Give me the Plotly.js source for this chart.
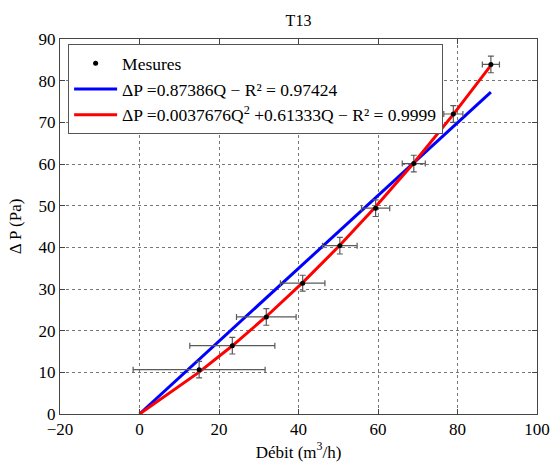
<!DOCTYPE html>
<html>
<head>
<meta charset="utf-8">
<script src="https://cdn.plot.ly/plotly-3.0.1.min.js"></script>
<style>
html,body{margin:0;padding:0;background:#fff}
#chart{width:559px;height:466px}
</style>
</head>
<body>
<div id="chart"></div>
<script>
const debit   = [15.0, 23.35, 31.9, 41.05, 50.4, 59.4, 69.0, 78.95, 88.4];
const deltaP  = [10.65, 16.4, 23.3, 31.4, 40.4, 49.4, 60.1, 72.0, 83.9];
const errDebit = [16.6, 10.7, 7.5, 5.6, 4.35, 3.55, 2.9, 2.4, 2.15];
const errDeltaP = [2.0, 2.0, 2.0, 1.9, 2.0, 2.0, 2.0, 2.0, 2.0];
// Fit coefficients shown in the legend
const linCoef = [0.87386];            // ΔP = a·Q
const quadCoef = [0.0037676, 0.61333]; // ΔP = a·Q² + b·Q
const fitQ = [0].concat(debit);

const linY = fitQ.map(q => linCoef[0] * q);
const quadY = fitQ.map(q => quadCoef[0] * q * q + quadCoef[1] * q);

const serif = 'Liberation Serif';

const traces = [
  {x: fitQ, y: linY, mode: 'lines', name: 'ΔP =0.87386Q − R² = 0.97424',
   line: {color: '#0000ff', width: 3}, legendrank: 2},
  {x: fitQ, y: quadY, mode: 'lines', name: 'ΔP =0.0037676Q<sup>2</sup> +0.61333Q − R² = 0.9999',
   line: {color: '#ff0000', width: 3}, legendrank: 3},
  {x: debit, y: deltaP, mode: 'markers', name: 'Mesures', legendrank: 1,
   marker: {color: '#000', size: 5},
   error_x: {type: 'data', array: errDebit, visible: true, color: '#5a5a5a', thickness: 1.2, width: 3},
   error_y: {type: 'data', array: errDeltaP, visible: true, color: '#5a5a5a', thickness: 1.2, width: 3}}
];

function axis(extra) {
  return Object.assign({
    showline: true, mirror: 'ticks', linecolor: '#444', linewidth: 1,
    ticks: 'inside', ticklen: 5, tickcolor: '#444',
    showgrid: true, gridcolor: '#777', griddash: 'dot', gridwidth: 1,
    zeroline: false, tickfont: {family: serif, size: 17, color: '#000'}
  }, extra);
}

const layout = {
  width: 559, height: 466,
  margin: {l: 60, r: 22, t: 39, b: 52},
  paper_bgcolor: '#fff', plot_bgcolor: '#fff',
  font: {family: serif, size: 16, color: '#000'},
  title: {text: 'T13', font: {family: serif, size: 16, color: '#000'}, x: 0.534, xanchor: 'center', y: 0.956, yanchor: 'middle'},
  showlegend: true,
  legend: {x: 0.017, y: 0.986, xanchor: 'left', yanchor: 'top', bgcolor: '#fff',
           bordercolor: '#555', borderwidth: 1, font: {family: serif, size: 17.5, color: '#000'},
           tracegroupgap: 0, itemwidth: 43},
  xaxis: axis({range: [-20, 100], dtick: 20, tick0: 0,
    title: {text: 'Débit (m<sup>3</sup>/h)', font: {family: serif, size: 17, color: '#000'}, standoff: 4}}),
  yaxis: axis({range: [0, 90], dtick: 10, tick0: 0,
    title: {text: 'Δ P (Pa)', font: {family: serif, size: 17, color: '#000'}, standoff: 12}})
};

Plotly.newPlot('chart', traces, layout, {displayModeBar: false, staticPlot: true});
</script>
</body>
</html>
